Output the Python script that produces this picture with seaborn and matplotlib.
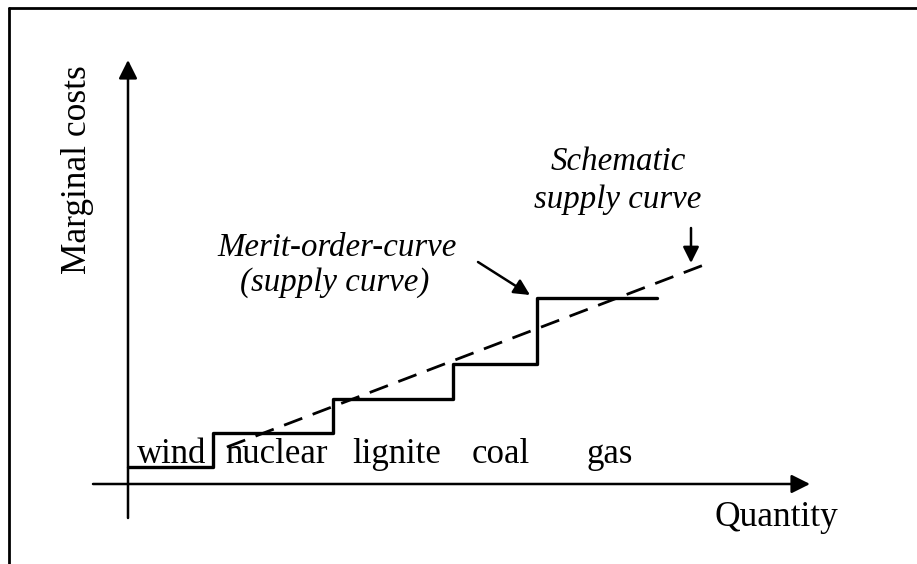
"""Merit-order curve sketch: stepped supply curve with a schematic dashed line."""
import matplotlib
matplotlib.use('Agg')
import matplotlib.pyplot as plt
from matplotlib.lines import Line2D
import seaborn as sns

# step edges along the quantity axis and the cost level of each block
quantity_edges = [0, 8.5, 20.5, 32.5, 40.9, 52.9]
block_costs = [1.7, 5.1, 8.5, 12.0, 18.6]
technologies = ['wind', 'nuclear', 'lignite', 'coal', 'gas']
label_quantity = [4.4, 14.8, 26.9, 37.3, 48.2]

# schematic (smooth) supply curve, end points
schematic_q = [9.9, 58.1]
schematic_c = [3.7, 22.1]

sns.set_style('white')
plt.rcParams['font.family'] = ['Liberation Serif', 'DejaVu Serif']
plt.rcParams['text.color'] = 'black'

fig = plt.figure(figsize=(9.17, 5.64), dpi=100)
ax = fig.add_axes([0, 0, 1, 1])
ax.set_xlim(-12.8, 78.9)
ax.set_ylim(-8.0, 48.4)
ax.axis('off')

# frame (top and left only)
fig.add_artist(Line2D([9 / 917, 1], [1 - 8 / 564] * 2, color='black', lw=2))
fig.add_artist(Line2D([9 / 917] * 2, [0, 1 - 8 / 564], color='black', lw=2))

# axes as arrows
arrow = dict(arrowstyle='-|>', color='black', lw=1.8, mutation_scale=28,
             shrinkA=0, shrinkB=0)
ax.annotate('', xy=(0, 42.4), xytext=(0, -3.4), arrowprops=arrow)
ax.annotate('', xy=(68.2, 0), xytext=(-3.5, 0), arrowprops=arrow)

# merit-order step curve
step_x = quantity_edges
step_y = block_costs + [block_costs[-1]]
sns.lineplot(x=step_x, y=step_y, drawstyle='steps-post', color='black',
             lw=2.4, ax=ax, sort=False, estimator=None)

# schematic supply curve
sns.lineplot(x=schematic_q, y=schematic_c, color='black', lw=2.0,
             dashes=False, linestyle=(0, (7, 4)), ax=ax, sort=False,
             estimator=None)

for q, name in zip(label_quantity, technologies):
    ax.text(q, 2.1, name, ha='center', va='baseline', fontsize=25)

ax.text(-5.0, 31.4, 'Marginal costs', rotation=90, ha='center',
        va='center', fontsize=25.5)
ax.text(64.85, -3.4, 'Quantity', ha='center', va='center', fontsize=25.5)

ax.text(20.9, 23.6, 'Merit-order-curve', ha='center', va='center',
        fontsize=23.7, style='italic')
ax.text(20.7, 20.1, '(supply curve)', ha='center', va='center',
        fontsize=23.7, style='italic')
ax.text(49.0, 32.2, 'Schematic', ha='center', va='center',
        fontsize=23.7, style='italic')
ax.text(49.0, 28.4, 'supply curve', ha='center', va='center',
        fontsize=23.7, style='italic')

pointer = dict(arrowstyle='-|>', color='black', lw=1.8, mutation_scale=24,
               shrinkA=0, shrinkB=0)
ax.annotate('', xy=(40.2, 18.9), xytext=(35.0, 22.2), arrowprops=pointer)
ax.annotate('', xy=(56.3, 22.1), xytext=(56.3, 25.6), arrowprops=pointer)

fig.savefig('out.png', dpi=100)
